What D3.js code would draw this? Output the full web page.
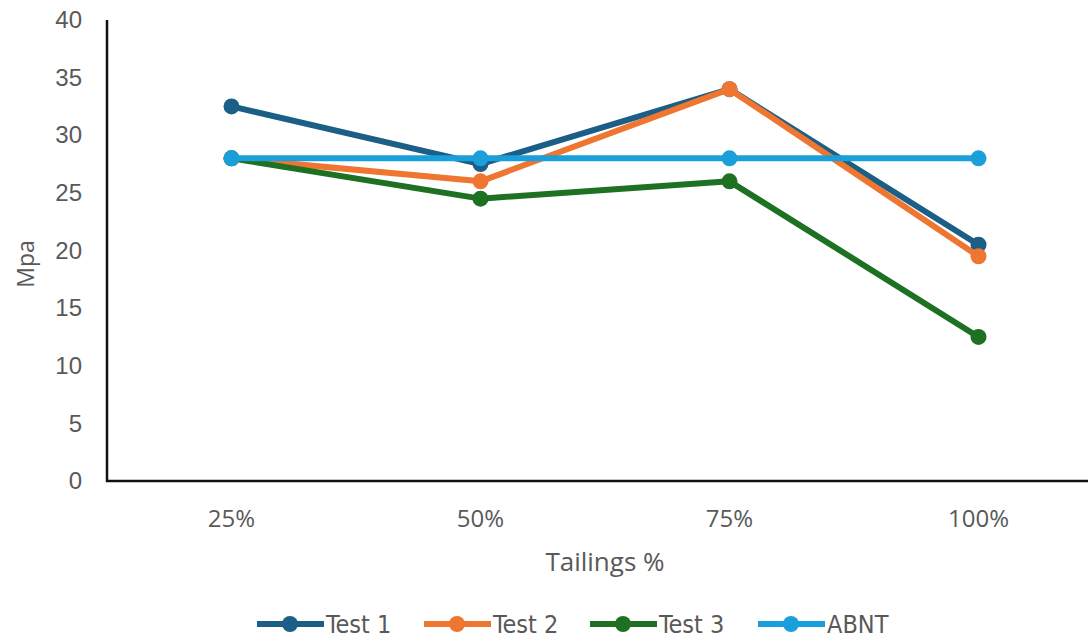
<!DOCTYPE html>
<html>
<head>
<meta charset="utf-8">
<script src="https://cdn.jsdelivr.net/npm/d3@7"></script>
<style>
  html, body { margin: 0; padding: 0; background: #fff; }
  svg { display: block; }
</style>
</head>
<body>
<svg id="chart" width="1088" height="638"></svg>
<script>
// Compressive strength (MPa) by tailings content
const categories = ["25%", "50%", "75%", "100%"];
const test1 = [32.5, 27.5, 34, 20.5];
const test2 = [28, 26, 34, 19.5];
const test3 = [28, 24.5, 26, 12.5];
const abnt = [28, 28, 28, 28];
const yTicks = [0, 5, 10, 15, 20, 25, 30, 35, 40];

const seriesNames = ["Test 1", "Test 2", "Test 3", "ABNT"];
const seriesColors = ["#1b5e86", "#ee7631", "#1e7122", "#1a9fda"];
const series = [test1, test2, test3, abnt].map((vals, i) => ({
  name: seriesNames[i], color: seriesColors[i], values: vals
}));

const svg = d3.select("#chart");
const plotLeft = 107, plotTop = 20, plotBottom = 481;

const x = d3.scaleBand().domain(categories).range([plotLeft, 1103]).padding(0);
const y = d3.scaleLinear().domain([0, 40]).range([plotBottom, plotTop]);
const cx = d => x(d) + x.bandwidth() / 2;

// y axis labels
const yAxis = d3.axisLeft(y).tickValues(yTicks).tickSize(0).tickPadding(25);
const gy = svg.append("g").attr("transform", `translate(${plotLeft},0)`).call(yAxis);
gy.select(".domain").remove();
gy.selectAll("text")
  .attr("font-family", "Liberation Sans, Arial, sans-serif")
  .attr("font-size", 24).attr("fill", "#595959");

// x axis labels
const xAxis = d3.axisBottom(x).tickSize(0);
const gx = svg.append("g").attr("transform", `translate(0,${plotBottom})`).call(xAxis);
gx.select(".domain").remove();
gx.selectAll("text")
  .attr("y", 46).attr("dy", 0)
  .attr("font-family", "Open Sans, Lato, sans-serif")
  .attr("font-size", 24).attr("fill", "#595959");

// axis lines
svg.append("line").attr("x1", plotLeft).attr("x2", plotLeft).attr("y1", plotTop).attr("y2", plotBottom + 1)
  .attr("stroke", "#111").attr("stroke-width", 2.5);
svg.append("line").attr("x1", plotLeft - 1).attr("x2", 1088).attr("y1", plotBottom).attr("y2", plotBottom)
  .attr("stroke", "#111").attr("stroke-width", 2.5);

// axis titles
svg.append("text")
  .attr("transform", `translate(34,264) rotate(-90)`)
  .attr("text-anchor", "middle")
  .attr("font-family", "Open Sans, Lato, sans-serif")
  .attr("font-size", 23).attr("fill", "#595959")
  .text("Mpa");
svg.append("text")
  .attr("x", 605).attr("y", 571)
  .attr("text-anchor", "middle")
  .attr("font-family", "Open Sans, Lato, sans-serif")
  .attr("font-size", 26).attr("fill", "#595959")
  .text("Tailings %");

// series lines and markers
const line = d3.line().x((d, i) => cx(categories[i])).y(d => y(d));
const gs = svg.append("g").selectAll("g").data(series).join("g");
gs.append("path")
  .attr("d", d => line(d.values))
  .attr("fill", "none").attr("stroke", d => d.color)
  .attr("stroke-width", 6).attr("stroke-linejoin", "round");
gs.selectAll("circle").data(d => d.values.map((v, i) => ({ v, i, color: d.color })))
  .join("circle")
  .attr("cx", d => cx(categories[d.i])).attr("cy", d => y(d.v))
  .attr("r", 8).attr("fill", d => d.color);

// legend
const legendX = [257, 424, 590, 758];
const lg = svg.append("g").selectAll("g").data(series).join("g")
  .attr("transform", (d, i) => `translate(${legendX[i]},624)`);
lg.append("line").attr("x1", 0).attr("x2", 67).attr("y1", 0).attr("y2", 0)
  .attr("stroke", d => d.color).attr("stroke-width", 6);
lg.append("circle").attr("cx", 33).attr("cy", 0).attr("r", 8).attr("fill", d => d.color);
lg.append("text").attr("x", 69).attr("y", 9)
  .attr("font-family", "Liberation Sans Narrow, DejaVu Sans Condensed, sans-serif")
  .attr("font-size", 25).attr("fill", "#595959")
  .text(d => d.name);
</script>
</body>
</html>
